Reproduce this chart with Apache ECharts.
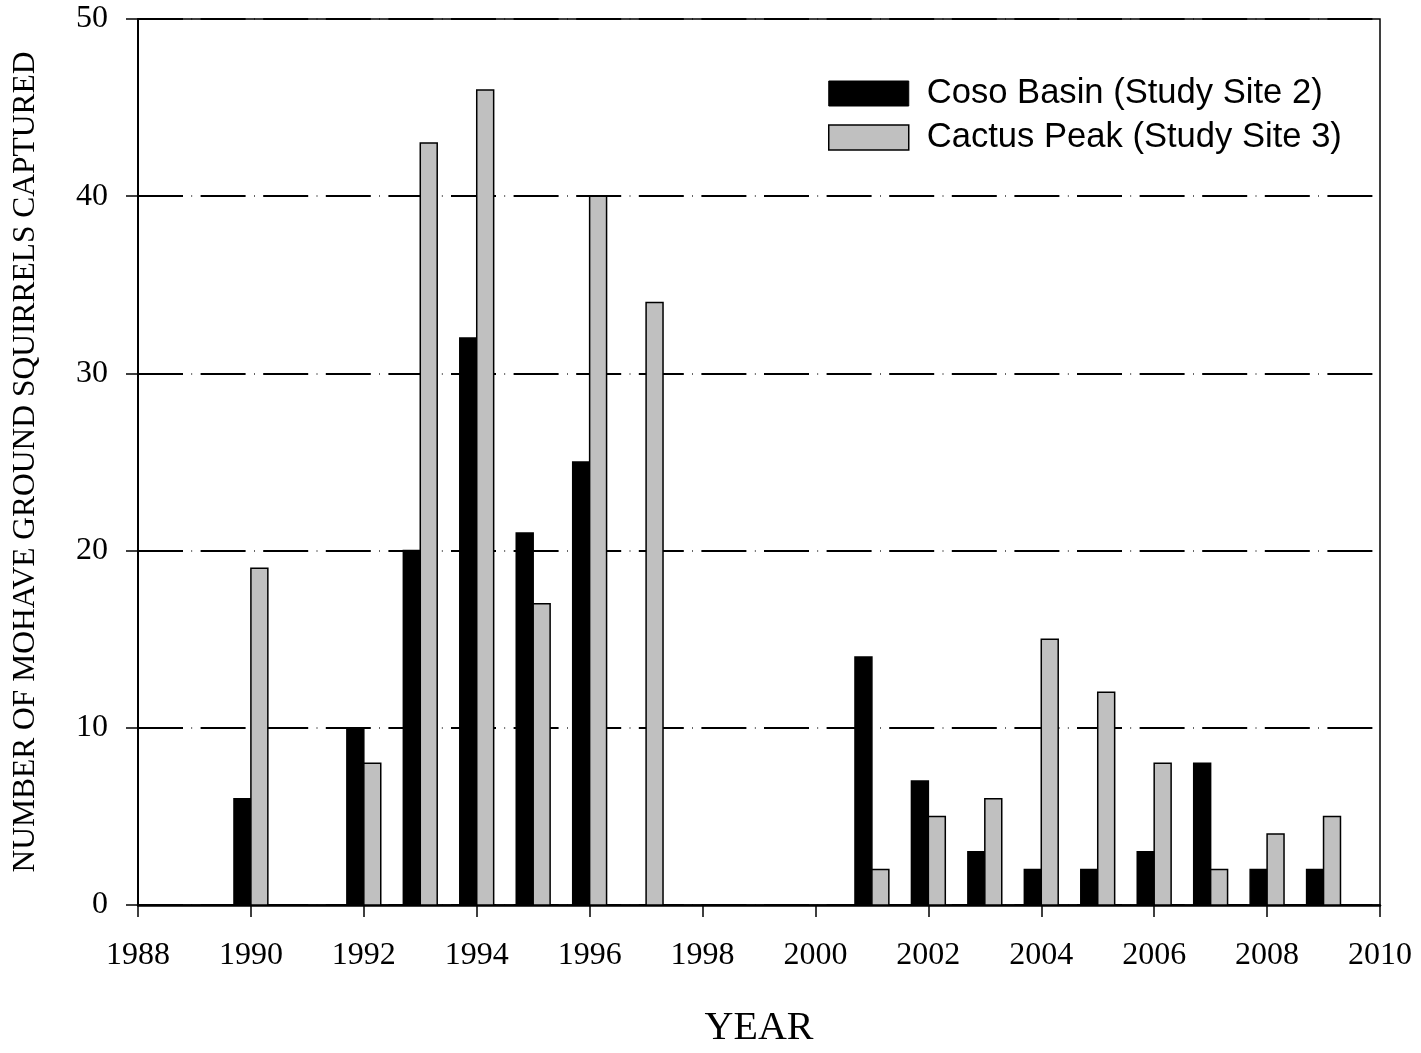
<!DOCTYPE html>
<html>
<head>
<meta charset="utf-8">
<script src="https://cdn.jsdelivr.net/npm/echarts@6/dist/echarts.min.js"></script>
<style>html,body{margin:0;padding:0;background:#fff;}#c{width:1421px;height:1053px;}</style>
</head>
<body>
<div id="c"></div>
<script>
const years = [1990, 1992, 1993, 1994, 1995, 1996, 1997, 2001, 2002, 2003, 2004, 2005, 2006, 2007, 2008, 2009];
const cosoBasin = [6, 10, 20, 32, 21, 25, 0, 14, 7, 3, 2, 2, 3, 8, 2, 2];
const cactusPeak = [19, 8, 43, 46, 17, 40, 34, 2, 5, 6, 15, 12, 8, 2, 4, 5];
const seriesNames = ['Coso Basin (Study Site 2)', 'Cactus Peak (Study Site 3)'];
const xTitle = 'YEAR';
const yTitle = 'NUMBER OF MOHAVE GROUND SQUIRRELS CAPTURED';

const SERIF = '"Liberation Serif", "Times New Roman", serif';
const SANS = '"Liberation Sans", Arial, sans-serif';
const BAR_W = 0.3; // bar width in years

function makeRender(side, fill, stroke) {
  return function (params, api) {
    const yr = api.value(0), v = api.value(1);
    if (!v) return null;
    const base = api.coord([yr, 0]);
    const top = api.coord([yr, v]);
    const w = api.size([BAR_W, 0])[0];
    const x = side < 0 ? base[0] - w : base[0];
    return {
      type: 'rect',
      shape: { x: x, y: top[1], width: w, height: base[1] - top[1] },
      style: { fill: fill, stroke: stroke, lineWidth: 1.5 }
    };
  };
}

const chart = echarts.init(document.getElementById('c'), null, { renderer: 'canvas' });
chart.setOption({
  animation: false,
  backgroundColor: '#fff',
  grid: { left: 138, right: 41, top: 19, bottom: 142, show: true, borderColor: '#000', borderWidth: 1.5, backgroundColor: 'transparent' },
  legend: {
    orient: 'vertical', left: 828, top: 76, padding: 0, itemWidth: 80, itemHeight: 25, itemGap: 9,
    icon: 'rect',
    textStyle: { fontFamily: SANS, fontSize: 34.6, color: '#000', lineHeight: 34, padding: [0, 0, 0, 13] },
    data: [
      { name: seriesNames[0], itemStyle: { color: '#000', borderColor: '#000', borderWidth: 1 } },
      { name: seriesNames[1], itemStyle: { color: '#c0c0c0', borderColor: '#000', borderWidth: 1.5 } }
    ]
  },
  xAxis: {
    type: 'value', min: 1988, max: 2010, interval: 2,
    name: xTitle, nameLocation: 'middle', nameGap: 103,
    nameTextStyle: { fontFamily: SERIF, fontSize: 40, color: '#000' },
    axisLine: { show: true, lineStyle: { color: '#000', width: 2.5 } },
    axisTick: { show: true, inside: false, length: 12, lineStyle: { color: '#000', width: 1.5 } },
    axisLabel: { fontFamily: SERIF, fontSize: 32, color: '#000', margin: 35, formatter: v => String(v) },
    splitLine: { show: false }
  },
  yAxis: {
    type: 'value', min: 0, max: 50, interval: 10,
    name: yTitle, nameLocation: 'middle', nameGap: 96, nameRotate: 90,
    nameTextStyle: { fontFamily: SERIF, fontSize: 31.5, color: '#000' },
    axisLine: { show: true, lineStyle: { color: '#000', width: 2 } },
    axisTick: { show: true, inside: false, length: 12, lineStyle: { color: '#000', width: 1.5 } },
    axisLabel: { fontFamily: SERIF, fontSize: 32, color: '#000', margin: 30 },
    splitLine: { show: true, lineStyle: { color: '#000', width: 2, type: [45, 8.5, 0.6, 8.5] } }
  },
  series: [
    {
      name: seriesNames[0], type: 'custom', renderItem: makeRender(-1, '#000', '#000'),
      itemStyle: { color: '#000' },
      encode: { x: 0, y: 1 },
      data: years.map((y, i) => [y, cosoBasin[i]])
    },
    {
      name: seriesNames[1], type: 'custom', renderItem: makeRender(1, '#c0c0c0', '#000'),
      itemStyle: { color: '#c0c0c0' },
      encode: { x: 0, y: 1 },
      data: years.map((y, i) => [y, cactusPeak[i]])
    }
  ]
});
</script>
</body>
</html>
